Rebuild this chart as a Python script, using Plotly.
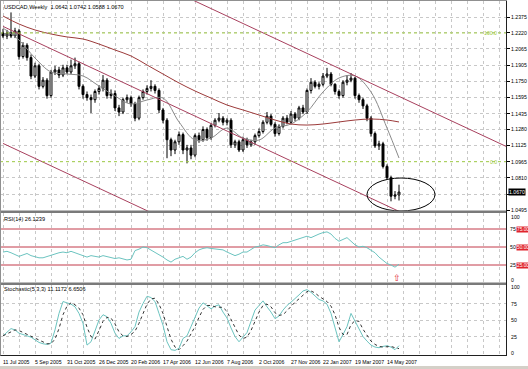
import plotly.graph_objects as go

# ---------------- data ----------------
title_text = "USDCAD,Weekly  1.0642 1.0742 1.0588 1.0670"
date_labels = ["11 Jul 2005", "5 Sep 2005", "31 Oct 2005", "26 Dec 2005", "20 Feb 2006",
               "17 Apr 2006", "12 Jun 2006", "7 Aug 2006", "2 Oct 2006", "27 Nov 2006",
               "22 Jan 2007", "19 Mar 2007", "14 May 2007"]
date_label_bars = [0, 8, 16, 24, 32, 40, 48, 56, 64, 72, 80, 88, 96]

opens = [1.222, 1.219, 1.222, 1.219, 1.224, 1.199, 1.210, 1.198, 1.180, 1.190,
         1.170, 1.176, 1.161, 1.184, 1.186, 1.181, 1.188, 1.184, 1.190, 1.192,
         1.170, 1.162, 1.159, 1.157, 1.165, 1.168, 1.176, 1.161, 1.163, 1.149,
         1.145, 1.157, 1.159, 1.153, 1.139, 1.159, 1.165, 1.168, 1.170, 1.166,
         1.147, 1.137, 1.118, 1.108, 1.116, 1.123, 1.108, 1.110, 1.103, 1.122,
         1.118, 1.128, 1.120, 1.132, 1.137, 1.139, 1.135, 1.137, 1.113, 1.116,
         1.108, 1.118, 1.113, 1.116, 1.122, 1.126, 1.135, 1.141, 1.133, 1.124,
         1.131, 1.139, 1.135, 1.143, 1.139, 1.149, 1.145, 1.166, 1.174, 1.170,
         1.172, 1.180, 1.182, 1.172, 1.165, 1.161, 1.174, 1.176, 1.178, 1.161,
         1.157, 1.151, 1.139, 1.124, 1.112, 1.114, 1.092, 1.081, 1.063, 1.0642]
highs = [1.226, 1.225, 1.242, 1.227, 1.226, 1.213, 1.212, 1.201, 1.193, 1.192,
         1.179, 1.178, 1.186, 1.190, 1.189, 1.191, 1.191, 1.196, 1.198, 1.194,
         1.172, 1.165, 1.162, 1.167, 1.171, 1.181, 1.178, 1.167, 1.166, 1.152,
         1.159, 1.162, 1.161, 1.155, 1.161, 1.167, 1.171, 1.176, 1.172, 1.168,
         1.149, 1.139, 1.120, 1.118, 1.126, 1.125, 1.113, 1.113, 1.124, 1.125,
         1.131, 1.130, 1.134, 1.139, 1.144, 1.141, 1.139, 1.139, 1.118, 1.118,
         1.121, 1.120, 1.118, 1.124, 1.129, 1.137, 1.145, 1.143, 1.135, 1.133,
         1.141, 1.142, 1.146, 1.145, 1.151, 1.152, 1.168, 1.178, 1.176, 1.174,
         1.183, 1.188, 1.184, 1.173, 1.167, 1.176, 1.181, 1.183, 1.179, 1.163,
         1.159, 1.153, 1.141, 1.126, 1.117, 1.116, 1.094, 1.083, 1.068, 1.0742]
lows = [1.217, 1.216, 1.217, 1.217, 1.196, 1.197, 1.195, 1.177, 1.178, 1.167,
        1.168, 1.158, 1.159, 1.181, 1.178, 1.179, 1.182, 1.182, 1.187, 1.167,
        1.158, 1.156, 1.144, 1.154, 1.162, 1.165, 1.158, 1.158, 1.146, 1.141,
        1.143, 1.154, 1.150, 1.136, 1.137, 1.157, 1.162, 1.165, 1.163, 1.144,
        1.134, 1.100, 1.102, 1.104, 1.113, 1.104, 1.095, 1.099, 1.101, 1.115,
        1.116, 1.117, 1.118, 1.130, 1.135, 1.132, 1.132, 1.110, 1.110, 1.106,
        1.106, 1.110, 1.111, 1.113, 1.120, 1.124, 1.133, 1.131, 1.121, 1.122,
        1.129, 1.133, 1.133, 1.136, 1.137, 1.143, 1.143, 1.163, 1.168, 1.167,
        1.170, 1.178, 1.170, 1.162, 1.158, 1.159, 1.171, 1.174, 1.158, 1.154,
        1.148, 1.136, 1.121, 1.110, 1.108, 1.090, 1.079, 1.058, 1.060, 1.0588]
closes = [1.219, 1.222, 1.219, 1.224, 1.199, 1.210, 1.198, 1.180, 1.190, 1.170,
          1.176, 1.161, 1.184, 1.186, 1.181, 1.188, 1.184, 1.190, 1.192, 1.170,
          1.162, 1.159, 1.157, 1.165, 1.168, 1.176, 1.161, 1.163, 1.149, 1.145,
          1.157, 1.159, 1.153, 1.139, 1.159, 1.165, 1.168, 1.170, 1.166, 1.147,
          1.137, 1.118, 1.108, 1.116, 1.123, 1.108, 1.110, 1.103, 1.122, 1.118,
          1.128, 1.120, 1.132, 1.137, 1.139, 1.135, 1.137, 1.113, 1.116, 1.108,
          1.118, 1.113, 1.116, 1.122, 1.126, 1.135, 1.141, 1.133, 1.124, 1.131,
          1.139, 1.135, 1.143, 1.139, 1.149, 1.145, 1.166, 1.174, 1.170, 1.172,
          1.180, 1.182, 1.172, 1.165, 1.161, 1.174, 1.176, 1.178, 1.161, 1.157,
          1.151, 1.139, 1.124, 1.112, 1.114, 1.092, 1.081, 1.063, 1.0642, 1.0670]

ma_bars = [0, 4, 8, 12, 16, 20, 24, 28, 32, 36, 40, 44, 48, 52, 56, 60, 64, 68, 72,
           76, 80, 84, 88, 92, 96, 99]
ma_fast = [1.2268, 1.2151, 1.1976, 1.1840, 1.1820, 1.1801, 1.1703, 1.1606, 1.1528,
           1.1567, 1.1586, 1.1353, 1.1177, 1.1197, 1.1294, 1.1197, 1.1177, 1.1294,
           1.1333, 1.1450, 1.1645, 1.1781, 1.1801, 1.1645, 1.1294, 1.1002]
ma_slow = [1.2385, 1.2307, 1.2249, 1.2210, 1.2181, 1.2161, 1.2112, 1.2054, 1.1996,
           1.1908, 1.1820, 1.1733, 1.1655, 1.1586, 1.1518, 1.1470, 1.1421, 1.1372,
           1.1333, 1.1323, 1.1333, 1.1353, 1.1372, 1.1382, 1.1372, 1.1353]

trend_bars = [0, 126]
trend_upper = [1.3404, 1.1111]
trend_middle = [1.2284, 0.9991]
trend_lower = [1.1144, 0.8852]

fib_levels = [1.2220, 1.0966]
fib_labels = ["100.0", "0.0"]

rsi = [43, 44, 42, 40, 37, 39, 41, 38, 36, 35, 35, 37, 39, 41, 42, 43, 42, 44, 42, 40,
       37, 36, 38, 37, 36, 38, 37, 35, 34, 35, 33, 32, 33, 45, 47, 50, 49, 46, 43, 40,
       36, 32, 29, 33, 35, 37, 33, 36, 42, 46, 48, 49, 48, 47, 46, 46, 43, 40, 38, 40,
       43, 43, 46, 50, 51, 53, 52, 50, 49, 53, 56, 56, 58, 60, 61, 63, 65, 63, 66, 68,
       70, 71, 68, 62, 58, 61, 63, 58, 53, 50, 51, 49, 45, 42, 36, 32, 27, 25, 22, 26.12]
rsi_levels = [75, 50, 25]

stoch_k = [26, 32, 37, 35, 30, 28, 26, 24, 20, 16, 14, 13, 15, 35, 60, 78, 76, 74, 70, 60,
           45, 12, 17, 35, 50, 58, 55, 45, 30, 22, 26, 26, 32, 40, 62, 75, 86, 84, 78, 60,
           42, 17, 5, 4, 7, 22, 26, 40, 54, 68, 76, 72, 67, 71, 73, 62, 53, 38, 25, 17,
           24, 31, 48, 65, 72, 79, 70, 62, 52, 56, 65, 72, 77, 82, 88, 94, 96, 92, 86, 81,
           79, 74, 60, 40, 17, 28, 40, 60, 48, 35, 25, 18, 12, 9, 8, 10, 11, 9, 5, 11.12]
stoch_d = [26, 29, 32, 35, 34, 31, 28, 26, 23, 20, 17, 14, 14, 21, 37, 58, 71, 76, 73, 68,
           58, 39, 25, 21, 34, 48, 54, 53, 44, 32, 26, 25, 28, 33, 45, 59, 74, 82, 83, 74,
           60, 40, 21, 9, 5, 11, 18, 29, 40, 54, 66, 72, 72, 70, 70, 69, 63, 51, 39, 27,
           22, 24, 34, 48, 62, 72, 74, 70, 61, 57, 58, 64, 71, 77, 82, 88, 93, 94, 91, 86,
           82, 78, 71, 58, 39, 28, 28, 43, 49, 48, 36, 26, 18, 13, 10, 9, 10, 10, 8, 6.65]

price_ticks = [1.2375, 1.2220, 1.2065, 1.1905, 1.1750, 1.1595, 1.1435, 1.1280, 1.1125,
               1.0965, 1.0810, 1.0650, 1.0495]
price_tick_text = ["1.2375", "1.2220", "1.2065", "1.1905", "1.1750", "1.1595", "1.1435",
                   "1.1280", "1.1125", "1.0965", "1.0810", "", "1.0495"]
last_price = 1.0670

# ---------------- layout helpers ----------------
W, H = 528, 369
def py(px):
    return 1 - px / H
def pxx(x):
    return x / W

XR = [-0.75, 125.75]
XDOM = [0, 506 / W]
FONT = "Liberation Sans, Arial, sans-serif"
GRID = "#c8c8c8"
TEAL = "#6cc4c0"
TREND = "#a8405e"
FS = 5.6
FD = 5.2

bars = list(range(len(closes)))

fig = go.Figure()

fig.add_trace(go.Candlestick(
    x=bars, open=opens, high=highs, low=lows, close=closes,
    increasing=dict(line=dict(color="black", width=1), fillcolor="white"),
    decreasing=dict(line=dict(color="black", width=1), fillcolor="black"),
    whiskerwidth=0, hoverinfo="skip", xaxis="x", yaxis="y", showlegend=False))

fig.add_trace(go.Scatter(x=ma_bars, y=ma_fast, mode="lines", line=dict(color="#8a8a8a", width=1, shape="spline"),
                         xaxis="x", yaxis="y", showlegend=False, hoverinfo="skip"))
fig.add_trace(go.Scatter(x=ma_bars, y=ma_slow, mode="lines", line=dict(color="#9c3a3a", width=1, shape="spline"),
                         xaxis="x", yaxis="y", showlegend=False, hoverinfo="skip"))
for tl in (trend_upper, trend_middle, trend_lower):
    fig.add_trace(go.Scatter(x=trend_bars, y=tl, mode="lines", line=dict(color=TREND, width=1),
                             xaxis="x", yaxis="y", showlegend=False, hoverinfo="skip"))
for lvl in fib_levels:
    fig.add_trace(go.Scatter(x=[XR[0], XR[1]], y=[lvl, lvl], mode="lines",
                             line=dict(color="#a6d24a", width=1, dash="dot"),
                             xaxis="x", yaxis="y", showlegend=False, hoverinfo="skip"))

# RSI
for lvl in rsi_levels:
    fig.add_trace(go.Scatter(x=[XR[0], XR[1]], y=[lvl, lvl], mode="lines",
                             line=dict(color="#c23b4b", width=1),
                             xaxis="x2", yaxis="y2", showlegend=False, hoverinfo="skip"))
fig.add_trace(go.Scatter(x=list(range(len(rsi))), y=rsi, mode="lines", line=dict(color=TEAL, width=1),
                         xaxis="x2", yaxis="y2", showlegend=False, hoverinfo="skip"))

# Stochastic
fig.add_trace(go.Scatter(x=list(range(len(stoch_k))), y=stoch_k, mode="lines", line=dict(color=TEAL, width=1),
                         xaxis="x3", yaxis="y3", showlegend=False, hoverinfo="skip"))
fig.add_trace(go.Scatter(x=list(range(len(stoch_d))), y=stoch_d, mode="lines",
                         line=dict(color="#333333", width=1, dash="dot"),
                         xaxis="x3", yaxis="y3", showlegend=False, hoverinfo="skip"))

xcommon = dict(range=XR, domain=XDOM, showticklabels=False, tickmode="linear", tick0=0, dtick=4,
               showgrid=True, gridcolor=GRID, griddash="dot", gridwidth=1, zeroline=False,
               showline=False, ticks="", fixedrange=True)

main_dom = [py(211), py(1)]
rsi_dom = [py(283), py(213)]
sto_dom = [py(355), py(285)]

fig.update_layout(
    width=W, height=H, margin=dict(l=0, r=0, t=0, b=0),
    paper_bgcolor="white", plot_bgcolor="white",
    font=dict(family=FONT, size=FS, color="black"),
    xaxis=dict(**xcommon, anchor="y", rangeslider=dict(visible=False)),
    xaxis2=dict(**xcommon, anchor="y2"),
    xaxis3=dict(**xcommon, anchor="y3"),
    yaxis=dict(domain=main_dom, range=[1.2541 - 0.000974 * 211, 1.2541 - 0.000974 * 1],
               side="right", anchor="x", tickmode="array", tickvals=price_ticks,
               showticklabels=False, ticks="outside", ticklen=3, tickcolor="black",
               showgrid=True, gridcolor=GRID, griddash="dot", zeroline=False, showline=False,
               fixedrange=True),
    yaxis2=dict(domain=rsi_dom, range=[0, 70 / 0.72], side="right", anchor="x2",
                showticklabels=False, ticks="", showgrid=False, zeroline=False, fixedrange=True),
    yaxis3=dict(domain=sto_dom, range=[-3.03, 103.03], side="right", anchor="x3",
                tickmode="array", tickvals=[25, 50, 75], showticklabels=False, ticks="",
                showgrid=True, gridcolor=GRID, griddash="dot", zeroline=False, fixedrange=True),
)

shapes = []
# ellipse around last bars
shapes.append(dict(type="circle", xref="x", yref="y", x0=91, x1=108,
                   y0=1.2541 - 0.000974 * 211, y1=1.2541 - 0.000974 * 178,
                   line=dict(color="black", width=1)))
# panel separators
for a, b in ((210.5, 213), (282.5, 285)):
    shapes.append(dict(type="rect", xref="paper", yref="paper", x0=0, x1=pxx(507), y0=py(b), y1=py(a),
                       fillcolor="#7a7a7a", line=dict(width=0)))
# frame
shapes.append(dict(type="line", xref="paper", yref="paper", x0=pxx(506.5), x1=pxx(506.5), y0=py(355.5), y1=py(0.5),
                   line=dict(color="#202020", width=1)))
shapes.append(dict(type="line", xref="paper", yref="paper", x0=0, x1=pxx(507), y0=py(355.5), y1=py(355.5),
                   line=dict(color="#202020", width=1)))
shapes.append(dict(type="line", xref="paper", yref="paper", x0=0, x1=pxx(507), y0=py(0.5), y1=py(0.5),
                   line=dict(color="#909090", width=1)))
shapes.append(dict(type="line", xref="paper", yref="paper", x0=pxx(0.5), x1=pxx(0.5), y0=py(355.5), y1=py(0.5),
                   line=dict(color="#909090", width=1)))
# bottom window bar
shapes.append(dict(type="rect", xref="paper", yref="paper", x0=0, x1=1, y0=0, y1=py(366),
                   fillcolor="#d4d0c8", line=dict(width=0)))
fig.update_layout(shapes=shapes)

ann = []
ann.append(dict(text=title_text, xref="paper", yref="paper", x=pxx(2), y=py(7), xanchor="left",
                yanchor="middle", showarrow=False, font=dict(size=FS)))
ann.append(dict(text="RSI(14) 26.1239", xref="paper", yref="paper", x=pxx(2), y=py(219), xanchor="left",
                yanchor="middle", showarrow=False, font=dict(size=FS)))
ann.append(dict(text="Stochastic(5,3,3) 11.1172 6.6506", xref="paper", yref="paper", x=pxx(2), y=py(289),
                xanchor="left", yanchor="middle", showarrow=False, font=dict(size=FS)))
for lbl, b in zip(date_labels, date_label_bars):
    ann.append(dict(text=lbl, xref="x3", yref="paper", x=b - 0.5, y=py(362), xanchor="left",
                    yanchor="middle", showarrow=False, font=dict(size=FD)))
# price scale labels
for v, t in zip(price_ticks, price_tick_text):
    if t:
        ann.append(dict(text=t, xref="paper", yref="y", x=pxx(509), y=v, xanchor="left",
                        yanchor="middle", showarrow=False, font=dict(size=FD)))
for lbl, lvl in zip(fib_labels, fib_levels):
    ann.append(dict(text=lbl, xref="paper", yref="y", x=pxx(499), y=lvl, xanchor="right",
                    yanchor="middle", showarrow=False, font=dict(size=5.2, color="#9cc840")))
ann.append(dict(text=f"{last_price:.4f}", xref="paper", yref="y", x=pxx(508), y=last_price, xanchor="left",
                yanchor="middle", showarrow=False, bgcolor="black", borderpad=0,
                font=dict(size=FD, color="white")))
# RSI scale labels
ann.append(dict(text="100", xref="paper", yref="paper", x=pxx(509), y=py(217), xanchor="left",
                yanchor="middle", showarrow=False, font=dict(size=5.2)))
ann.append(dict(text="0", xref="paper", yref="paper", x=pxx(509), y=py(280), xanchor="left",
                yanchor="middle", showarrow=False, font=dict(size=5.2)))
for lvl in rsi_levels:
    ann.append(dict(text=str(lvl), xref="paper", yref="y2", x=pxx(508), y=lvl, xanchor="left",
                    yanchor="middle", showarrow=False, font=dict(size=5.2)))
    ann.append(dict(text=f"{lvl}.00", xref="paper", yref="y2", x=pxx(515.5), y=lvl, xanchor="left",
                    yanchor="middle", showarrow=False, bgcolor="#e0242c", borderpad=0,
                    font=dict(size=4.8, color="white")))
ann.append(dict(text="⇧", xref="x2", yref="y2", x=98.5, y=7, xanchor="center", yanchor="middle",
                showarrow=False, font=dict(size=9, color="#e0242c")))
for v in (100, 75, 50, 25, 0):
    ann.append(dict(text=str(v), xref="paper", yref="y3", x=pxx(509), y=v, xanchor="left",
                    yanchor="middle", showarrow=False, font=dict(size=5.2)))
fig.update_layout(annotations=ann)

fig.write_html("out.html", config={"displayModeBar": False, "staticPlot": True},
               post_script="document.body.style.margin='0';document.body.style.overflow='hidden';")
